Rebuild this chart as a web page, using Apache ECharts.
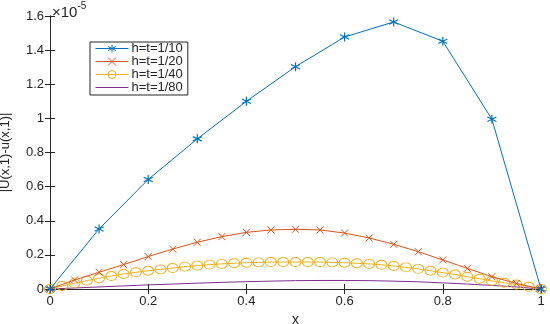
<!DOCTYPE html>
<html>
<head>
<meta charset="utf-8">
<script src="https://cdn.jsdelivr.net/npm/echarts@6/dist/echarts.min.js"></script>
<style>html,body{margin:0;padding:0;background:#fff;}#c{width:550px;height:324px;}</style>
</head>
<body>
<div id="c"></div>
<script>
var seriesNames = ['h=t=1/10', 'h=t=1/20', 'h=t=1/40', 'h=t=1/80'];
var xTicks = [0, 0.2, 0.4, 0.6, 0.8, 1];
var yTicks = [0, 0.2, 0.4, 0.6, 0.8, 1, 1.2, 1.4, 1.6];

var x10 = [0, 0.1, 0.2, 0.3, 0.4, 0.5, 0.6, 0.7, 0.8, 0.9, 1];
var y10 = [0, 0.352, 0.642, 0.88, 1.10, 1.303, 1.477, 1.565, 1.452, 0.995, 0];

var x20 = [0, 0.05, 0.1, 0.15, 0.2, 0.25, 0.3, 0.35, 0.4, 0.45, 0.5, 0.55, 0.6, 0.65, 0.7, 0.75, 0.8, 0.85, 0.9, 0.95, 1];
var y20 = [0, 0.053, 0.098, 0.143, 0.19, 0.234, 0.274, 0.307, 0.332, 0.346, 0.35, 0.346, 0.328, 0.299, 0.262, 0.219, 0.17, 0.121, 0.072, 0.033, 0];

var x40 = [0, 0.025, 0.05, 0.075, 0.1, 0.125, 0.15, 0.175, 0.2, 0.225, 0.25, 0.275, 0.3, 0.325, 0.35, 0.375, 0.4, 0.425, 0.45, 0.475, 0.5,
           0.525, 0.55, 0.575, 0.6, 0.625, 0.65, 0.675, 0.7, 0.725, 0.75, 0.775, 0.8, 0.825, 0.85, 0.875, 0.9, 0.925, 0.95, 0.975, 1];
var y40 = [0, 0.018, 0.033, 0.049, 0.063, 0.076, 0.088, 0.098, 0.107, 0.115, 0.123, 0.131, 0.137, 0.143, 0.147, 0.151, 0.154, 0.156, 0.158, 0.158, 0.158,
           0.158, 0.158, 0.156, 0.154, 0.151, 0.147, 0.142, 0.135, 0.127, 0.118, 0.107, 0.096, 0.085, 0.072, 0.06, 0.048, 0.037, 0.026, 0.013, 0];

var x80 = [0, 0.05, 0.1, 0.15, 0.2, 0.25, 0.3, 0.35, 0.4, 0.45, 0.5, 0.55, 0.6, 0.65, 0.7, 0.75, 0.8, 0.85, 0.9, 0.95, 1];
var y80 = [0, 0.006, 0.012, 0.018, 0.024, 0.029, 0.034, 0.039, 0.043, 0.046, 0.049, 0.05, 0.05, 0.049, 0.046, 0.042, 0.036, 0.029, 0.021, 0.012, 0];

function pairs(xs, ys) { return xs.map(function (x, i) { return [x, ys[i]]; }); }

var FONT = 'Liberation Sans';
var TXT = '#262626';
var asterisk = 'path://M0,-5L0,5M-4.33,-2.5L4.33,2.5M-4.33,2.5L4.33,-2.5';
var cross = 'path://M-4,-4L4,4M-4,4L4,-4';

var chart = echarts.init(document.getElementById('c'));
var axisCommon = {
  min: 0,
  axisLine: { show: true, lineStyle: { color: TXT, width: 1 } },
  axisTick: { show: true, inside: true, length: 5, lineStyle: { color: TXT } },
  splitLine: { show: false }
};
chart.setOption({
  animation: false,
  backgroundColor: '#fff',
  textStyle: { fontFamily: FONT },
  grid: { left: 50, right: 9, top: 16, bottom: 35, containLabel: false, outerBoundsMode: 'none' },
  graphic: [{
    type: 'text', left: 52, top: 1,
    style: {
      text: '{a|\u00d710}{b|-5}',
      rich: {
        a: { fontFamily: FONT, fontSize: 15, fill: TXT, verticalAlign: 'bottom' },
        b: { fontFamily: FONT, fontSize: 10, fill: TXT, verticalAlign: 'top', padding: [0, 0, 9, 0] }
      }
    }
  }],
  xAxis: [
    Object.assign({}, axisCommon, {
      type: 'value', max: 1, interval: 0.2, position: 'bottom',
      name: 'x', nameLocation: 'middle', nameGap: 21,
      nameTextStyle: { fontFamily: FONT, fontSize: 14, color: TXT },
      axisLabel: { fontFamily: FONT, fontSize: 13, color: TXT, margin: 6,
        formatter: function (v) { var r = Math.round(v * 10) / 10; return xTicks.indexOf(r) >= 0 ? String(r) : ''; } }
    }),
    Object.assign({}, axisCommon, {
      type: 'value', max: 1, interval: 0.2, position: 'top', axisLabel: { show: false }
    })
  ],
  yAxis: [
    Object.assign({}, axisCommon, {
      type: 'value', max: 1.6, interval: 0.2, position: 'left',
      name: '|U(x,1)-u(x,1)|', nameLocation: 'middle', nameGap: 38,
      nameTextStyle: { fontFamily: FONT, fontSize: 13, color: TXT },
      axisLabel: { fontFamily: FONT, fontSize: 13, color: TXT, margin: 6,
        formatter: function (v) { var r = Math.round(v * 10) / 10; return yTicks.indexOf(r) >= 0 ? String(r) : ''; } }
    }),
    Object.assign({}, axisCommon, {
      type: 'value', max: 1.6, interval: 0.2, position: 'right', axisLabel: { show: false }
    })
  ],
  legend: {
    orient: 'vertical', left: 90, top: 42,
    padding: [0, 5, 1, 5], itemGap: 0, itemWidth: 33, itemHeight: 10,
    backgroundColor: '#fff', borderColor: TXT, borderWidth: 1, borderRadius: 0,
    lineStyle: { width: 1 },
    itemStyle: { borderWidth: 1 },
    textStyle: { fontFamily: FONT, fontSize: 13, color: TXT, lineHeight: 13, padding: [0, 0, 0, -2] },
    data: seriesNames
  },
  series: [
    { name: seriesNames[0], type: 'line', data: pairs(x10, y10), symbol: asterisk, symbolSize: 9,
      lineStyle: { color: '#0072BD', width: 1 },
      itemStyle: { color: 'rgba(0,0,0,0)', borderColor: '#0072BD', borderWidth: 1.2 }, z: 5 },
    { name: seriesNames[1], type: 'line', data: pairs(x20, y20), symbol: cross, symbolSize: 7,
      lineStyle: { color: '#D95319', width: 1 },
      itemStyle: { color: 'rgba(0,0,0,0)', borderColor: '#D95319', borderWidth: 1 }, z: 4 },
    { name: seriesNames[2], type: 'line', data: pairs(x40, y40), symbol: 'circle', symbolSize: [11, 9],
      lineStyle: { color: '#EDB120', width: 1 },
      itemStyle: { color: 'rgba(0,0,0,0)', borderColor: '#EDB120', borderWidth: 1 }, z: 3 },
    { name: seriesNames[3], type: 'line', data: pairs(x80, y80), symbol: 'none', showSymbol: false,
      lineStyle: { color: '#7E2F8E', width: 1 },
      itemStyle: { color: 'rgba(0,0,0,0)', borderColor: 'rgba(0,0,0,0)', borderWidth: 0 }, z: 2 }
  ]
});
</script>
</body>
</html>
